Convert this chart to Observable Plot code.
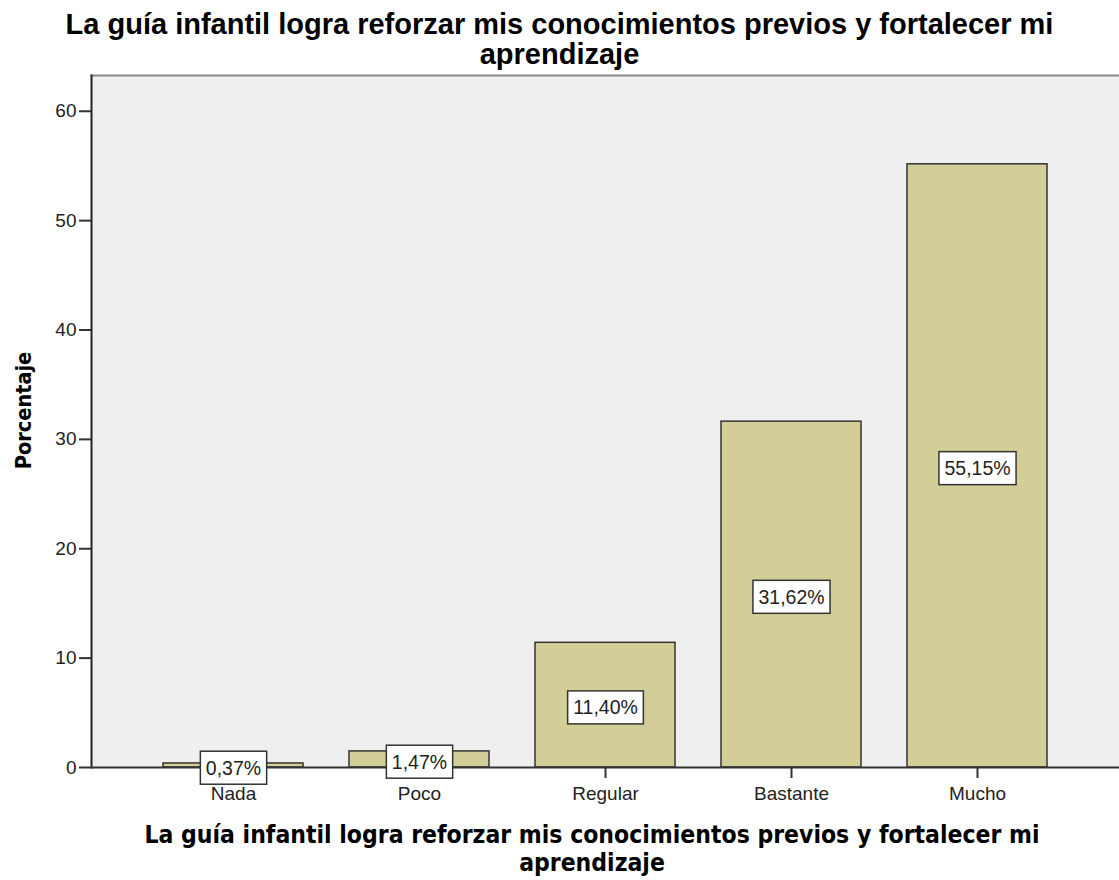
<!DOCTYPE html>
<html><head><meta charset="utf-8">
<script src="https://cdn.jsdelivr.net/npm/d3@7"></script>
<script src="https://cdn.jsdelivr.net/npm/@observablehq/plot@0.6"></script>
<style>
body{margin:0;background:#fff;width:1119px;height:880px;position:relative;overflow:hidden;font-family:"Liberation Sans",Arial,sans-serif}
#title{position:absolute;left:0;width:1119px;top:9px;text-align:center;font-weight:bold;font-size:29px;line-height:30px;color:#000;white-space:nowrap}
#chart{position:absolute;left:0;top:70px}
#xtitle{position:absolute;left:0;width:1184px;top:821px;text-align:center;font-family:"DejaVu Sans Condensed","DejaVu Sans",sans-serif;font-stretch:condensed;font-weight:bold;font-size:24.5px;line-height:28px;color:#000;white-space:nowrap}
</style></head>
<body>
<div id="title">La guía infantil logra reforzar mis conocimientos previos y fortalecer mi<br>aprendizaje</div>
<div id="chart"></div>
<div id="xtitle">La guía infantil logra reforzar mis conocimientos previos y fortalecer mi<br>aprendizaje</div>
<script>
const categories = ["Nada", "Poco", "Regular", "Bastante", "Mucho"];
const percentages = [0.37, 1.47, 11.40, 31.62, 55.15];
const valueLabels = ["0,37%", "1,47%", "11,40%", "31,62%", "55,15%"];
const yTicks = [0, 10, 20, 30, 40, 50, 60];
const yMax = 63.27;
const yLabel = "Porcentaje";

const data = categories.map((c, i) => ({cat: c, pct: percentages[i], label: valueLabels[i]}));

const plot = Plot.plot({
  width: 1119, height: 745,
  marginLeft: 91, marginRight: 0, marginTop: 5, marginBottom: 48,
  style: {fontFamily: "'Liberation Sans', Arial, sans-serif", fontSize: "19px", color: "#222", background: "transparent", overflow: "visible"},
  x: {domain: categories, paddingInner: 0.247, paddingOuter: 0.385, label: null},
  y: {domain: [0, yMax], label: null},
  marks: [
    Plot.frame({fill: "#efefef", stroke: null}),
    Plot.frame({anchor: "top", stroke: "#8a8a8a", strokeWidth: 2}),
    Plot.barY(data, {x: "cat", y: "pct", fill: "#d3ce97", stroke: "#333", strokeWidth: 1.5}),
    Plot.frame({anchor: "left", stroke: "#222", strokeWidth: 2}),
    Plot.ruleY([0], {stroke: "#333", strokeWidth: 2}),
    Plot.axisY({ticks: yTicks, tickSize: 12, tickPadding: 3, tickFormat: d => String(d), label: null, stroke: "#333", strokeWidth: 2, fontSize: 19}),
    Plot.axisX({tickSize: 11, tickPadding: 8, label: null, stroke: "#333", strokeWidth: 2, fontSize: 19}),
    Plot.text(data, {x: "cat", y: d => d.pct / 2, dy: 3, text: "label", fontSize: 19.5, fill: "#222", className: "vlabel"}),
    Plot.text([yLabel], {frameAnchor: "left", textAnchor: "middle", rotate: -90, dx: -67, dy: -11, text: d => d, fontSize: 21.5, fontWeight: "bold", fill: "#000", fontFamily: "'DejaVu Sans Condensed', 'DejaVu Sans', sans-serif", className: "ylab"})
  ]
});
document.getElementById("chart").appendChild(plot);

// white boxes behind value labels
plot.querySelectorAll("g.vlabel text").forEach(t => {
  const b = t.getBBox();
  const r = document.createElementNS("http://www.w3.org/2000/svg", "rect");
  const px = 5.5, h = 33;
  const cy = b.y + b.height / 2;
  r.setAttribute("x", b.x - px);
  r.setAttribute("y", cy - h / 2);
  r.setAttribute("width", b.width + 2 * px);
  r.setAttribute("height", h);
  r.setAttribute("fill", "#fff");
  r.setAttribute("stroke", "#333");
  r.setAttribute("stroke-width", "1.5");
  const tr = t.getAttribute("transform");
  if (tr) r.setAttribute("transform", tr);
  t.parentNode.insertBefore(r, t);
});
</script>
</body></html>
